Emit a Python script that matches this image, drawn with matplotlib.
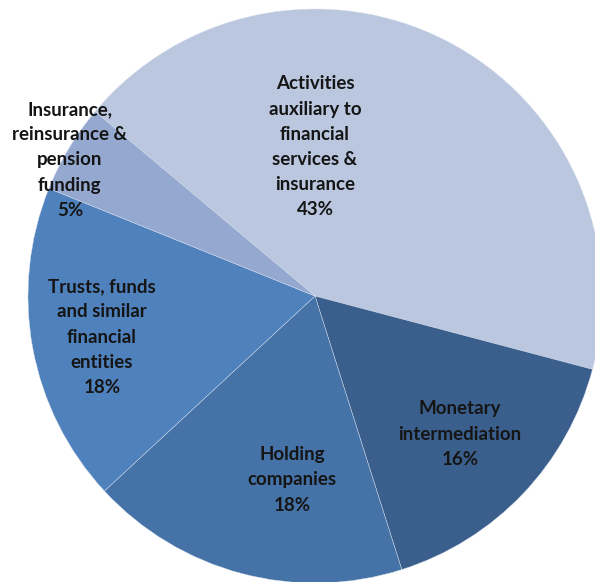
import matplotlib.pyplot as plt

# sector shares of the financial services group (%)
sectors = [
    'Activities\nauxiliary to\nfinancial\nservices &\ninsurance',
    'Monetary\nintermediation',
    'Holding\ncompanies',
    'Trusts, funds\nand similar\nfinancial\nentities',
    'Insurance,\nreinsurance &\npension\nfunding',
]
shares = [43, 16, 18, 18, 5]

colors = ['#BAC7DF', '#3B5F8D', '#4573A7', '#4F81BD', '#95A9D0']
# where each label block sits (pie radius = 1)
label_pos = [(0.0, 0.52), (0.505, -0.481), (-0.08, -0.641), (-0.742, -0.143), (-0.854, 0.474)]

fig = plt.figure(figsize=(5.95, 5.82), dpi=100)
ax = fig.add_axes([0, 0, 1, 1])

wedges, _ = ax.pie(shares, colors=colors, startangle=140, counterclock=False,
                   radius=1, wedgeprops=dict(edgecolor='#D8E0EE', linewidth=0.3))

for name, val, (x, y) in zip(sectors, shares, label_pos):
    ax.text(x, y, f'{name}\n{val}%', ha='center', va='center',
            fontsize=13.5, fontweight='bold', family='Lato',
            color='#151515', linespacing=1.58)

ax.set_xlim(-315 / 287, 280 / 287)
ax.set_ylim(-286 / 287, 296 / 287)
ax.set_aspect('auto')
ax.axis('off')

fig.savefig('out.png', dpi=100)
